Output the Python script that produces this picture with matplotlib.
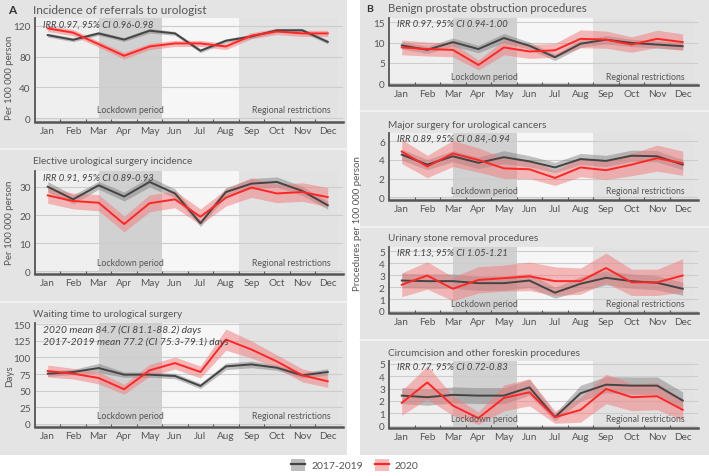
import matplotlib
matplotlib.use("Agg")
import matplotlib.pyplot as plt
from matplotlib.patches import Rectangle, Patch
from matplotlib.lines import Line2D
import numpy as np

plt.rcParams['font.family'] = ['Lato', 'DejaVu Sans']

months = ["Jan", "Feb", "Mar", "Apr", "May", "Jun", "Jul", "Aug", "Sep", "Oct", "Nov", "Dec"]

# ---- Panel A1: referrals ----
ref_base = [107.8, 101.7, 110, 102, 113.5, 110, 87.5, 100.5, 106, 114, 114, 99]
ref_base_ci = [2.5, 2.5, 2.5, 2.5, 3, 2.5, 2.5, 2.5, 2.5, 2.5, 2.5, 2.5]
ref_2020 = [116.5, 111, 96, 81, 93, 97, 97, 93, 107, 112.5, 110, 110]
ref_2020_ci = [4, 4, 4, 4.3, 4, 4, 4, 4, 4, 4, 4, 4]

# ---- Panel A2: elective surgery ----
el_base = [30.1, 25.6, 30.6, 26.6, 31.8, 27.7, 17.1, 28.2, 31.2, 31.8, 28.6, 23.5]
el_base_ci = [1.8, 1.6, 1.4, 1.6, 1.8, 1.6, 1.2, 1.6, 1.8, 1.8, 1.6, 1.4]
el_2020 = [27, 25, 24.4, 16.8, 24.2, 25.6, 19.4, 26.2, 29.8, 27.7, 28.2, 26.4]
el_2020_ci = [2.8, 2.8, 2.9, 2.8, 3, 3, 2.8, 3, 3.5, 3.3, 3.3, 3.4]

# ---- Panel A3: waiting time ----
wt_base = [75.5, 78, 84, 74, 74, 72, 57, 86.5, 89.5, 84.5, 73, 78]
wt_base_ci = [4, 4, 7, 4, 4, 4, 4, 5, 5, 4, 4, 5]
wt_2020 = [79.5, 75.5, 69, 52, 80.5, 91.5, 78, 127, 112, 94, 73, 64]
wt_2020_ci = [9, 8, 9, 7.5, 9, 9, 9, 16, 13, 10, 10, 9]

# ---- Panel B1: benign prostate obstruction ----
bpo_base = [9.3, 8.2, 10.1, 8.4, 11.1, 9.2, 6.4, 9.7, 10.7, 9.9, 9.5, 9.1]
bpo_base_ci = [0.9, 0.9, 1.0, 0.9, 1.1, 0.9, 0.8, 0.9, 1.0, 0.9, 0.9, 0.9]
bpo_2020 = [8.8, 8.4, 8.2, 4.5, 8.8, 7.8, 8.1, 10.9, 10.7, 9.5, 10.9, 10.1]
bpo_2020_ci = [1.8, 1.7, 1.7, 1.2, 1.8, 1.7, 1.7, 2.2, 2.1, 1.9, 2.1, 2.0]

# ---- Panel B2: urological cancers ----
can_base = [4.57, 3.5, 4.4, 3.7, 4.3, 3.85, 3.2, 4.1, 3.9, 4.46, 4.4, 3.5]
can_base_ci = [0.6, 0.55, 0.6, 0.6, 0.7, 0.6, 0.55, 0.6, 0.6, 0.6, 0.6, 0.55]
can_2020 = [4.9, 3.3, 4.7, 4.0, 3.1, 3.0, 2.07, 3.2, 2.9, 3.5, 4.2, 3.65]
can_2020_ci = [1.3, 1.2, 1.4, 1.3, 1.1, 1.0, 0.8, 1.0, 1.0, 1.2, 1.4, 1.3]

# ---- Panel B3: urinary stone ----
st_base = [2.55, 2.5, 2.5, 2.33, 2.33, 2.55, 1.53, 2.28, 2.78, 2.5, 2.36, 1.86]
st_base_ci = [0.6, 0.6, 0.6, 0.6, 0.6, 0.6, 0.45, 0.6, 0.6, 0.6, 0.6, 0.55]
st_2020 = [2.2, 2.97, 1.86, 2.6, 2.75, 2.9, 2.5, 2.5, 3.6, 2.4, 2.4, 2.97]
st_2020_ci = [1.0, 1.15, 1.0, 1.1, 1.1, 1.2, 1.2, 1.1, 1.25, 1.1, 1.1, 1.4]

# ---- Panel B4: circumcision ----
cir_base = [2.43, 2.3, 2.49, 2.43, 2.43, 3.1, 0.68, 2.62, 3.32, 3.24, 3.24, 2.03]
cir_base_ci = [0.65, 0.65, 0.65, 0.65, 0.65, 0.65, 0.3, 0.65, 0.65, 0.7, 0.7, 0.7]
cir_2020 = [1.84, 3.5, 1.62, 0.6, 2.24, 2.7, 0.68, 1.27, 2.97, 2.3, 2.38, 1.27]
cir_2020_ci = [1.0, 1.35, 0.8, 0.5, 1.05, 1.1, 0.5, 1.0, 1.2, 1.1, 1.1, 0.8]

W, H = 709, 477
fig = plt.figure(figsize=(W / 100, H / 100), dpi=100)
fig.patch.set_facecolor('white')

TXT = '#555555'
BG = '#e4e4e4'
RED = '#ff2626'
RED_BAND = '#f27a7a'
BLK = '#444444'
BLK_BAND = '#7a7a7a'


def frac_rect(x0, y0, x1, y1):
    return [x0 / W, 1 - y1 / H, (x1 - x0) / W, (y1 - y0) / H]


# column backgrounds
fig.patches.append(Rectangle((0, 1 - 456 / H), 347 / W, 456 / H, transform=fig.transFigure,
                             facecolor=BG, edgecolor='none', zorder=-10))
fig.patches.append(Rectangle((360 / W, 1 - 456 / H), (W - 360) / W, 456 / H, transform=fig.transFigure,
                             facecolor=BG, edgecolor='none', zorder=-10))
for yy in [150, 303]:
    fig.add_artist(Line2D([0, 347 / W], [1 - yy / H] * 2, transform=fig.transFigure,
                          color='#f4f4f4', lw=1.2, zorder=-5))
for yy in [112, 228, 341]:
    fig.add_artist(Line2D([360 / W, 1], [1 - yy / H] * 2, transform=fig.transFigure,
                          color='#f4f4f4', lw=1.2, zorder=-5))

x = np.arange(len(months))


def panel(rect, base, base_ci, y20, y20_ci, ylim, yticks, note_lines, note_size=6.8):
    ax = fig.add_axes(frac_rect(*rect))
    ax.set_facecolor('none')
    ax.set_xlim(-0.5, 11.6)
    ax.set_ylim(*ylim)
    top = ylim[1]
    # shaded background regions (from y=0 to top)
    ax.fill_between([-0.5, 2], 0, top, color='#efefef', lw=0, zorder=0)
    ax.fill_between([2, 4.5], 0, top, color='#d1d1d1', lw=0, zorder=0)
    ax.fill_between([4.5, 7.5], 0, top, color='#f6f6f6', lw=0, zorder=0)
    ax.fill_between([7.5, 11.4], 0, top, color='#e2e2e2', lw=0, zorder=0)
    for t in yticks:
        ax.axhline(t, color='#cdcdcd', lw=0.8, zorder=1)
    b = np.array(base)
    bc = np.array(base_ci)
    r = np.array(y20)
    rc = np.array(y20_ci)
    ax.fill_between(x, b - bc, b + bc, color=BLK_BAND, alpha=0.45, lw=0, zorder=2)
    ax.fill_between(x, r - rc, r + rc, color=RED_BAND, alpha=0.5, lw=0, zorder=3)
    ax.plot(x, b, color=BLK, lw=1.4, zorder=4)
    ax.plot(x, r, color=RED, lw=1.4, zorder=5)
    ax.set_yticks(yticks)
    ax.set_xticks(x)
    ax.set_xticklabels(months)
    ax.set_xticks(x[:-1] + 0.5, minor=True)
    ax.tick_params(axis='y', length=0, labelsize=7.2, labelcolor=TXT, pad=3)
    ax.tick_params(axis='x', which='major', length=0, labelsize=7.2, labelcolor=TXT, pad=3)
    ax.tick_params(axis='x', which='minor', length=2.5, direction='in', color='#555555', width=0.8)
    for s in ['top', 'right']:
        ax.spines[s].set_visible(False)
    ax.spines['left'].set_color('#555555')
    ax.spines['left'].set_linewidth(1.3)
    ax.spines['bottom'].set_color('#555555')
    ax.spines['bottom'].set_linewidth(1.8)
    yr = ylim[1] - ylim[0]
    ax.text(3.25, 0 + 0.04 * yr, 'Lockdown period', ha='center', va='bottom', fontsize=6.3,
            color=TXT, zorder=6)
    ax.text(9.55, 0 + 0.04 * yr, 'Regional restrictions', ha='center', va='bottom', fontsize=6.3,
            color=TXT, zorder=6)
    for i, line in enumerate(note_lines):
        ax.text(0.025, 0.985 - i * 0.115, line, transform=ax.transAxes, ha='left', va='top',
                fontsize=note_size, style='italic', color='#444444', zorder=6)
    return ax


panel((35, 19, 343, 123), ref_base, ref_base_ci, ref_2020, ref_2020_ci, (-5, 130), [0, 40, 80, 120],
      ['IRR 0.97, 95% CI 0.96-0.98'])
panel((35, 172, 343, 275), el_base, el_base_ci, el_2020, el_2020_ci, (-1, 35.7), [0, 10, 20, 30],
      ['IRR 0.91, 95% CI 0.89-0.93'])
panel((35, 324, 343, 428), wt_base, wt_base_ci, wt_2020, wt_2020_ci, (-5, 152), [0, 25, 50, 75, 100, 125, 150],
      ['2020 mean 84.7 (CI 81.1-88.2) days', '2017-2019 mean 77.2 (CI 75.3-79.1) days'], note_size=7.4)
panel((389, 19, 698, 86), bpo_base, bpo_base_ci, bpo_2020, bpo_2020_ci, (-0.4, 16), [0, 5, 10, 15],
      ['IRR 0.97, 95% CI 0.94-1.00'])
panel((389, 134, 698, 201), can_base, can_base_ci, can_2020, can_2020_ci, (-0.3, 6.9), [0, 2, 4, 6],
      ['IRR 0.89, 95% CI 0.84,-0.94'])
panel((389, 248, 698, 314), st_base, st_base_ci, st_2020, st_2020_ci, (-0.17, 5.36), [0, 1, 2, 3, 4, 5],
      ['IRR 1.13, 95% CI 1.05-1.21'])
panel((389, 362, 698, 429), cir_base, cir_base_ci, cir_2020, cir_2020_ci, (-0.2, 5.24), [0, 1, 2, 3, 4, 5],
      ['IRR 0.77, 95% CI 0.72-0.83'])


def ftext(xp, yp, s, **kw):
    fig.text(xp / W, 1 - yp / H, s, **kw)


ftext(8, 10, 'A', fontsize=8.5, fontweight='bold', color='#333333', va='center', ha='left')
ftext(33, 10, 'Incidence of referrals to urologist', fontsize=8.6, color=TXT, va='center', ha='left')
ftext(33, 162, 'Elective urological surgery incidence', fontsize=7.2, color=TXT, va='center', ha='left')
ftext(33, 315, 'Waiting time to urological surgery', fontsize=7.2, color=TXT, va='center', ha='left')
ftext(366, 9, 'B', fontsize=7.5, fontweight='bold', color='#333333', va='center', ha='left')
ftext(388, 9, 'Benign prostate obstruction procedures', fontsize=8.2, color=TXT, va='center', ha='left')
ftext(388, 125, 'Major surgery for urological cancers', fontsize=7.2, color=TXT, va='center', ha='left')
ftext(388, 239, 'Urinary stone removal procedures', fontsize=7.2, color=TXT, va='center', ha='left')
ftext(388, 353, 'Circumcision and other foreskin procedures', fontsize=7.2, color=TXT, va='center', ha='left')

ftext(10, 78, 'Per 100 000 person', fontsize=7.0, color=TXT, rotation=90, va='center', ha='center')
ftext(10, 223, 'Per 100 000 person', fontsize=7.0, color=TXT, rotation=90, va='center', ha='center')
ftext(10, 376, 'Days', fontsize=7.0, color=TXT, rotation=90, va='center', ha='center')
ftext(357, 224, 'Procedures per 100 000 person', fontsize=7.0, color=TXT, rotation=90, va='center', ha='center')

h1 = (Patch(facecolor='#bdbdbd', edgecolor='none'), Line2D([], [], color=BLK, lw=1.6))
h2 = (Patch(facecolor='#f9bcbc', edgecolor='none'), Line2D([], [], color=RED, lw=1.6))
fig.legend([h1, h2], ['2017-2019', '2020'], loc='center', bbox_to_anchor=(355 / W, 1 - 466 / H),
           ncol=2, frameon=False, fontsize=7.5, labelcolor=TXT, handlelength=1.3, handleheight=1.3,
           columnspacing=1.2, handletextpad=0.6)

fig.savefig('out.png', dpi=100)
